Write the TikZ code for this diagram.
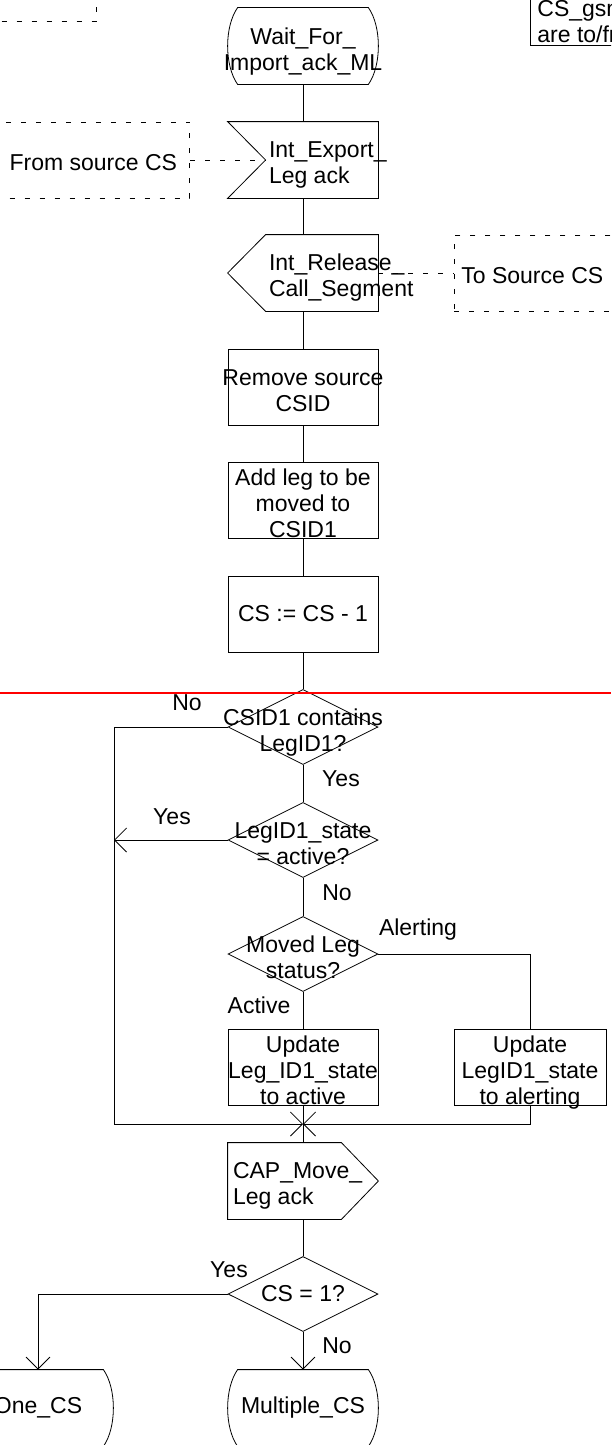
\documentclass[tikz,border=0pt]{standalone}
\usepackage{fontspec}
\setmainfont{Liberation Sans}
\usetikzlibrary{shapes.geometric,arrows.meta}

% text in a box of no width, so that it does not widen the symbol;
% every line gets the same height and depth and sits a little low
\newcommand{\ctext}[1]{\makebox[0pt]{\raisebox{-6pt}[\height][\depth]{#1\vphantom{Ag}}}}
\newcommand{\ltext}[2]{\makebox[0pt][l]{\hspace*{#1}\raisebox{-5pt}[\height][\depth]{#2\vphantom{Ag}}}}

% SDL symbols, drawn round a node of their size
\newcommand{\stateoutline}[1]{%
  \draw ([xshift=10pt]#1.north west) -- ([xshift=-10pt]#1.north east)
    .. controls ([xshift=3.3pt,yshift=-19pt]#1.north east) and ([xshift=3.3pt,yshift=19pt]#1.south east)
    .. ([xshift=-10pt]#1.south east) -- ([xshift=10pt]#1.south west)
    .. controls ([xshift=-3.3pt,yshift=19pt]#1.south west) and ([xshift=-3.3pt,yshift=-19pt]#1.north west)
    .. ([xshift=10pt]#1.north west) -- cycle;}
\newcommand{\inputoutline}[1]{%
  \draw (#1.north west) -- (#1.north east) -- (#1.south east) -- (#1.south west)
    -- ([xshift=38pt]#1.west) -- cycle;}
\newcommand{\outleftoutline}[1]{%
  \draw ([xshift=38pt]#1.north west) -- (#1.north east) -- (#1.south east)
    -- ([xshift=38pt]#1.south west) -- (#1.west) -- cycle;}
\newcommand{\outrightoutline}[1]{%
  \draw (#1.north west) -- ([xshift=-37pt]#1.north east) -- (#1.east)
    -- ([xshift=-37pt]#1.south east) -- (#1.south west) -- cycle;}

\tikzset{
  every node/.style={font=\fontsize{23}{26}\selectfont, inner sep=0pt, align=center},
  sym/.style={minimum width=150pt, minimum height=76pt},
  task/.style={sym, draw},
  decision/.style={draw, diamond, minimum width=150pt, minimum height=75pt},
  note/.style={draw, dash pattern=on 5pt off 10pt, minimum height=76pt},
  noteline/.style={dash pattern=on 5pt off 10pt},
}

\begin{document}
\begin{tikzpicture}[x=1pt, y=-1pt, line width=0.8pt,
    >={Straight Barb[length=12pt,width=24pt]}]
    \useasboundingbox (0,0) rectangle (611,1445);
    \clip (0,0) rectangle (611,1445);

    % notes at the top
    \node[note, anchor=south east, minimum width=200pt] (topnote) at (97,22) {};
    \node[draw, anchor=south west, minimum width=200pt, inner ysep=3pt] (legend) at (530,46)
        {\ltext{-93pt}{CS\_gsmSSF}\\\ltext{-93pt}{are to/from the}};

    % main column
    \node[sym] (wait) at (303,46) {\ctext{Wait\_For\_}\\\ctext{Import\_ack\_ML}};
    \stateoutline{wait}
    \node[sym] (export) at (303,160) {\ltext{-34pt}{Int\_Export\_}\\\ltext{-34pt}{Leg ack}};
    \inputoutline{export}
    \node[sym] (release) at (303,273) {\ltext{-34pt}{Int\_Release\_}\\\ltext{-34pt}{Call\_Segment}};
    \outleftoutline{release}
    \node[task] (remove) at (303,387) {\ctext{Remove source}\\\ctext{CSID}};
    \node[task] (addleg) at (303,500) {\ctext{Add leg to be}\\\ctext{moved to}\\\ctext{CSID1}};
    \node[task] (decr) at (303,614) {CS := CS - 1};
    \node[decision] (contains) at (303,727) {\ctext{CSID1 contains}\\\ctext{LegID1?}};
    \node[decision] (isactive) at (303,840) {\ctext{LegID1\_state}\\\ctext{= active?}};
    \node[decision] (status) at (303,954) {\ctext{Moved Leg}\\\ctext{status?}};
    \node[task] (updactive) at (303,1067) {\ctext{Update}\\\ctext{Leg\_ID1\_state}\\\ctext{to active}};
    \node[task, minimum width=152pt] (updalert) at (530,1067) {\ctext{Update}\\\ctext{LegID1\_state}\\\ctext{to alerting}};
    \coordinate (join) at (303,1124);
    \coordinate (loop) at (114,1124);
    \node[sym] (capack) at (303,1181) {\ltext{-70pt}{CAP\_Move\_}\\\ltext{-70pt}{Leg ack}};
    \outrightoutline{capack}
    \node[decision] (onecs) at (303,1294) {\makebox[0pt]{CS = 1?}};
    \node[sym] (one) at (38,1408) {One\_CS};
    \stateoutline{one}
    \node[sym] (multi) at (303,1408) {Multiple\_CS};
    \stateoutline{multi}

    % signal notes
    \node[note, anchor=east, minimum width=240pt] (fromsrc) at (190,160) {\ltext{-60pt}{From source CS}};
    \node[note, anchor=west, minimum width=250pt] (tosrc) at (454,273) {\ltext{-118pt}{To Source CS}};
    \draw[noteline] (fromsrc) -- ([xshift=38pt]export.west);
    \draw[noteline] (release) -- (tosrc);

    % flow
    \draw (wait) -- (export);
    \draw (export) -- (release);
    \draw (release) -- (remove);
    \draw (remove) -- (addleg);
    \draw (addleg) -- (decr);
    \draw (decr) -- (contains);
    \draw (contains) -- (isactive);
    \draw (isactive) -- (status);
    \draw (status) -- (updactive);
    \draw (status) -| (updalert);
    \draw (updactive) -- (capack);
    \draw[->] (contains) -| (loop) -- (join);
    \draw[->] (isactive) -- (isactive -| loop);
    \draw[->] (updalert) |- (join);
    \draw (capack) -- (onecs);
    \draw[->] (onecs) -| (one);
    \draw[->] (onecs) -- (multi);

    % branch labels
    \node (no1) at (187,703) {No};
    \node (yes1) at (341,779) {Yes};
    \node (yes2) at (172,817) {Yes};
    \node (no2) at (337,893) {No};
    \node (alerting) at (418,930) {Alerting};
    \node (active) at (259,1005) {Active};
    \node (yes3) at (229,1270) {Yes};
    \node (no3) at (337,1346) {No};

    % page break mark
    \draw[red, line width=2pt] (0,693) -- (611,693);
\end{tikzpicture}
\end{document}
